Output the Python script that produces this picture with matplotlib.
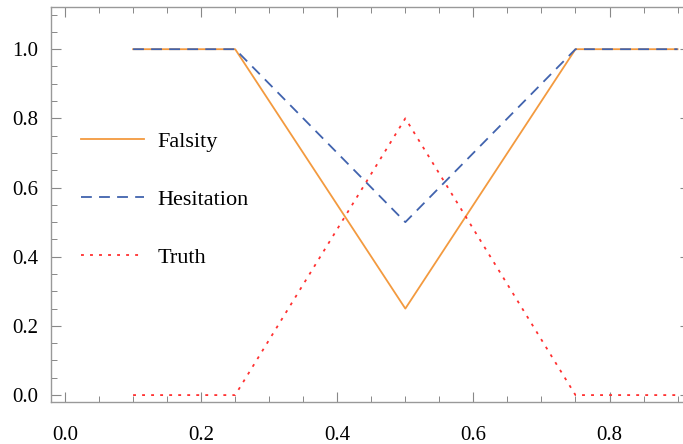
import matplotlib
matplotlib.use("Agg")
import matplotlib.pyplot as plt
from matplotlib.ticker import MultipleLocator, FormatStrFormatter

x = [0.1, 0.25, 0.5, 0.75, 0.9]
falsity = [1.0, 1.0, 0.25, 1.0, 1.0]
hesitation = [1.0, 1.0, 0.5, 1.0, 1.0]
truth = [0.0, 0.0, 0.8, 0.0, 0.0]

plt.rcParams['font.family'] = ['Liberation Serif', 'DejaVu Serif']

fig = plt.figure(figsize=(6.83, 4.44), dpi=100)
ax = fig.add_axes([51/683, 42/444, (683-51)/683 + 0.01, (402-7)/444])

ax.plot(x, falsity, color='#F39A3F', lw=1.3, linestyle='-', label='Falsity')
ax.plot(x, hesitation, color='#4163AE', lw=1.3, linestyle=(0, (6, 4)), label='Hesitation')
ax.plot(x, truth, color='#FF3030', lw=1.3, linestyle=(0, (1.6, 3.4)), label='Truth')

ax.set_xlim(-0.0206, 0.918)
ax.set_ylim(-0.02, 1.122)
ax.xaxis.set_major_locator(MultipleLocator(0.2))
ax.xaxis.set_minor_locator(MultipleLocator(0.05))
ax.yaxis.set_major_locator(MultipleLocator(0.2))
ax.yaxis.set_minor_locator(MultipleLocator(0.05))
ax.xaxis.set_major_formatter(FormatStrFormatter('%.1f'))
ax.yaxis.set_major_formatter(FormatStrFormatter('%.1f'))
ax.tick_params(which='both', direction='in', top=True, right=True, color='#888888', labelsize=15, labelcolor='black')
ax.tick_params(which='major', length=7, width=0.8)
ax.tick_params(which='minor', length=4, width=0.7)
ax.tick_params(axis='x', which='major', pad=17.5)
ax.tick_params(axis='y', which='major', pad=9)
for s in ax.spines.values():
    s.set_color('#999999')
    s.set_linewidth(1.0)

leg = ax.legend(loc='upper left', bbox_to_anchor=(0.015, 0.735), frameon=False, fontsize=16,
                handlelength=2.85, labelspacing=1.68, handletextpad=0.6)

fig.savefig('out.png', dpi=100)
